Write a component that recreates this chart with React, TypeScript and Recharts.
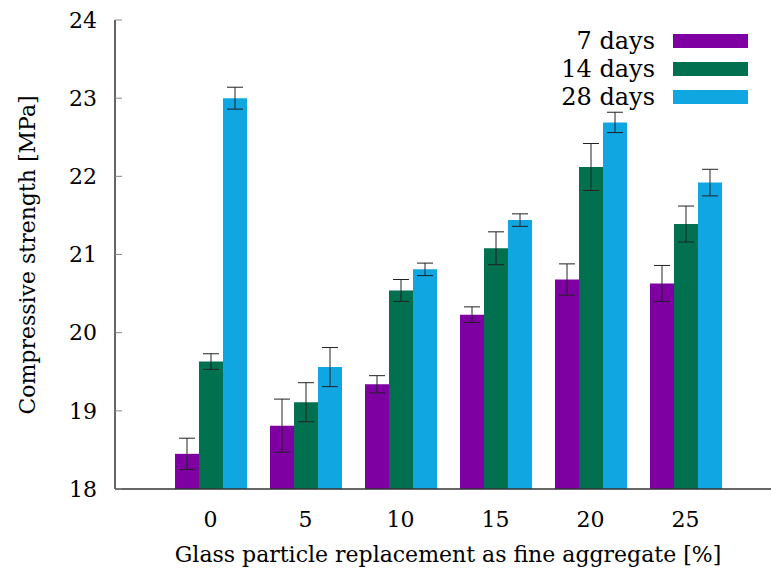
import React from 'react'
import { BarChart, Bar, XAxis, YAxis, ErrorBar, Label } from 'recharts'

const categories = ['0', '5', '10', '15', '20', '25']
const days7 = [18.45, 18.81, 19.34, 20.23, 20.68, 20.63]
const days7Err = [0.2, 0.34, 0.11, 0.1, 0.2, 0.23]
const days14 = [19.63, 19.11, 20.54, 21.08, 22.12, 21.39]
const days14Err = [0.1, 0.25, 0.14, 0.21, 0.3, 0.23]
const days28 = [23.0, 19.56, 20.81, 21.44, 22.69, 21.92]
const days28Err = [0.14, 0.25, 0.08, 0.08, 0.13, 0.17]
const yTicks = [18, 19, 20, 21, 22, 23, 24]

const series = [
  { key: 'd7', err: 'e7', name: '7 days', color: '#7e00a3' },
  { key: 'd14', err: 'e14', name: '14 days', color: '#00704f' },
  { key: 'd28', err: 'e28', name: '28 days', color: '#0fa6e2' },
]

const data = categories.map((c, i) => ({
  glass: c,
  d7: days7[i],
  e7: days7Err[i],
  d14: days14[i],
  e14: days14Err[i],
  d28: days28[i],
  e28: days28Err[i],
}))

const FONT = "'DejaVu Serif', serif"
const FS = 22

function SeriesLegend() {
  return (
    <div style={{ position: 'absolute', left: 485, top: 27, fontFamily: FONT, fontSize: 24, color: '#000' }}>
      {series.map((s) => (
        <div key={s.key} style={{ display: 'flex', alignItems: 'center', height: 28, lineHeight: '28px' }}>
          <span style={{ width: 170, textAlign: 'right' }}>{s.name}</span>
          <span style={{ width: 75, height: 14, marginLeft: 18, background: s.color, display: 'inline-block' }} />
        </div>
      ))}
    </div>
  )
}

export default function App() {
  return (
    <div style={{ position: 'absolute', left: 0, top: 0, width: 771, height: 577, overflow: 'hidden', background: '#fff', fontFamily: FONT }}>
      <BarChart
        width={790}
        height={577}
        data={data}
        margin={{ top: 20, right: 9, bottom: 0, left: 0 }}
        barGap={0}
        barSize={24}
        style={{ fontFamily: FONT }}
      >
        <XAxis
          dataKey="glass"
          height={88}
          padding={{ left: 48, right: 48 }}
          axisLine={{ stroke: '#333', strokeWidth: 1.5 }}
          tickLine={false}
          tickSize={0}
          tickMargin={22}
          tick={{ fill: '#000', fontSize: FS, fontFamily: FONT }}
        >
          <Label
            value="Glass particle replacement as fine aggregate [%]"
            position="insideBottom"
            offset={15}
            style={{ fill: '#000', fontSize: FS, fontFamily: FONT }}
          />
        </XAxis>
        <XAxis
          xAxisId="top"
          dataKey="glass"
          orientation="top"
          height={0}
          padding={{ left: 48, right: 48 }}
          axisLine={{ stroke: '#333', strokeWidth: 1.5 }}
          tickLine={{ stroke: '#888' }}
          tickSize={-7}
          tick={false}
        />
        <YAxis
          width={115}
          domain={[18, 24]}
          ticks={yTicks}
          allowDataOverflow
          axisLine={{ stroke: '#333', strokeWidth: 1.5 }}
          tickLine={{ stroke: '#888' }}
          tickSize={-7}
          tickMargin={25}
          tick={{ fill: '#000', fontSize: FS, fontFamily: FONT }}
        >
          <Label
            content={() => (
              <text
                transform="translate(35, 255) rotate(-90)"
                textAnchor="middle"
                style={{ fill: '#000', fontSize: FS, fontFamily: FONT }}
              >
                Compressive strength [MPa]
              </text>
            )}
          />
        </YAxis>
        {series.map((s) => (
          <Bar key={s.key} name={s.name} dataKey={s.key} fill={s.color} isAnimationActive={false}>
            <ErrorBar dataKey={s.err} direction="y" width={8} stroke="#222" strokeWidth={1} />
          </Bar>
        ))}
      </BarChart>
      <SeriesLegend />
    </div>
  )
}
